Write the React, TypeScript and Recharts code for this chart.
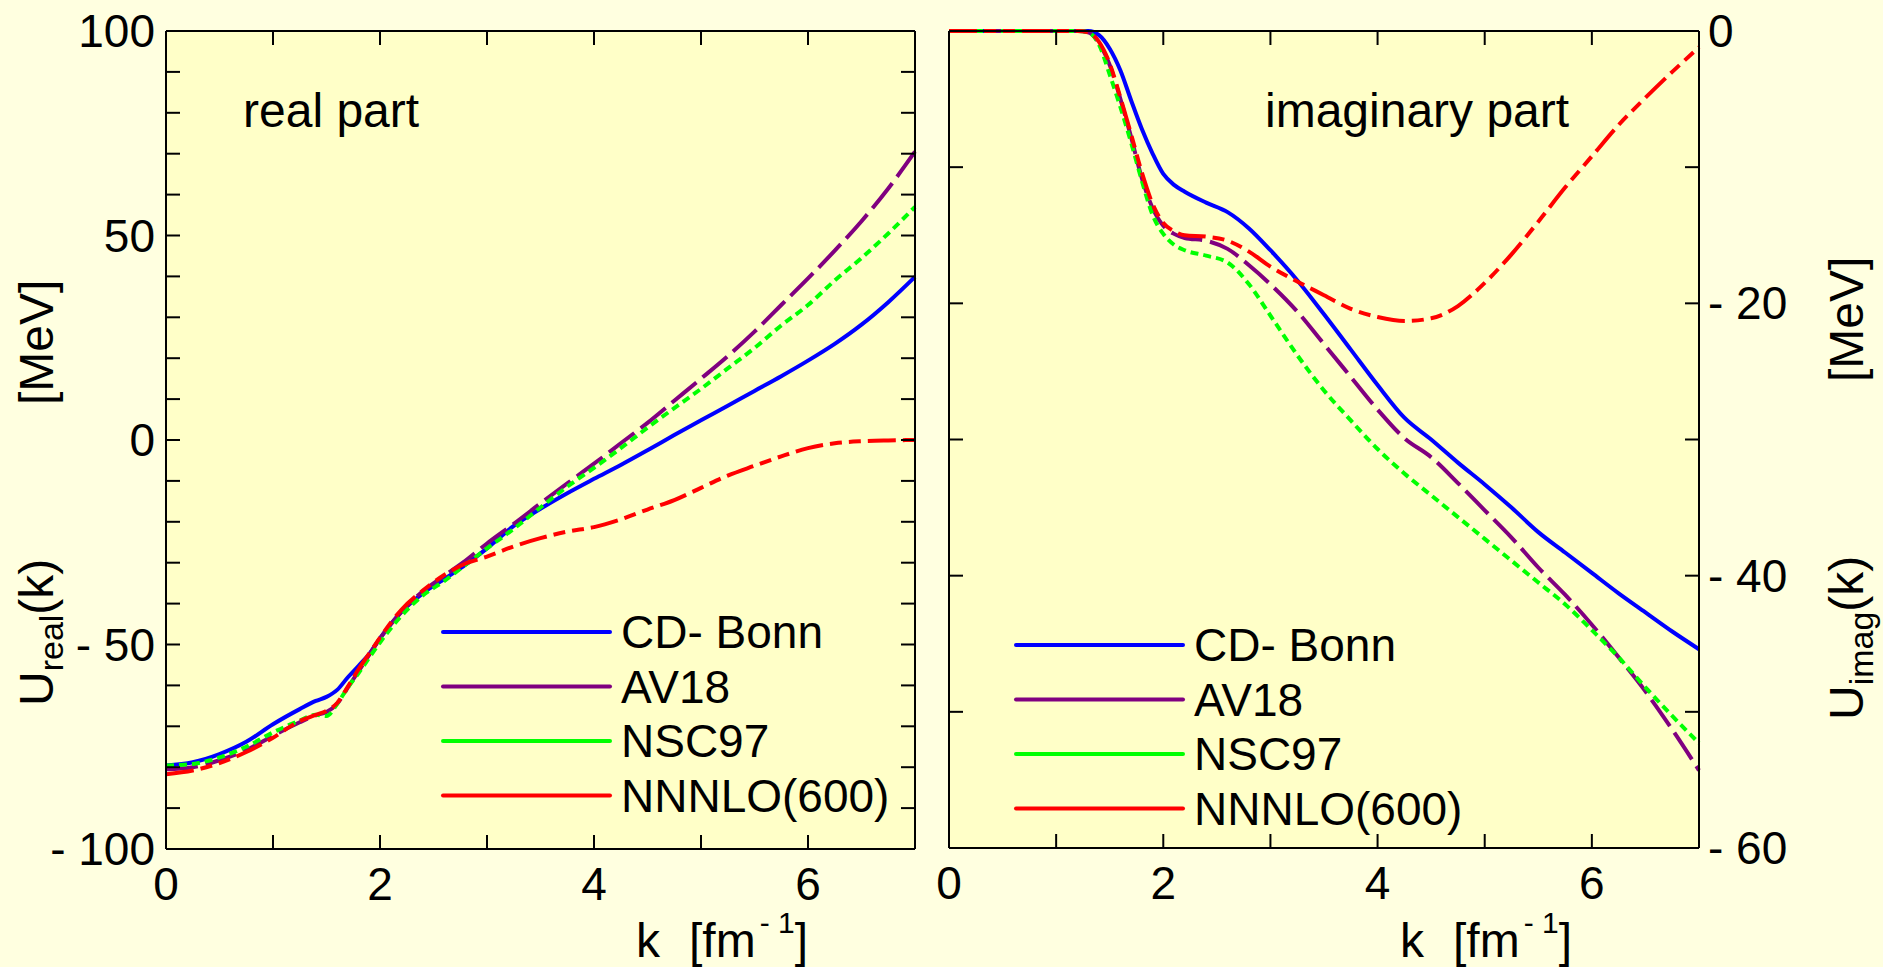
import { LineChart, Line, XAxis, YAxis, CartesianGrid, Legend } from 'recharts'

// k grid and values (MeV)
const kReal = [0, 0.25, 0.5, 0.75, 1, 1.25, 1.4, 1.5, 1.6, 1.7, 1.8, 1.9, 2, 2.2, 2.4, 2.6, 2.8, 3, 3.25, 3.5, 3.75, 4, 4.25, 4.5, 4.75, 5, 5.25, 5.5, 5.75, 6, 6.25, 6.5, 6.75, 7]
const realCdBonn = [-79.6, -78.8, -76.8, -73.8, -69.5, -65.8, -63.8, -62.8, -61.1, -58.0, -55.2, -52.3, -48.5, -42, -37.5, -34, -30.5, -26.5, -21, -16.8, -13, -9.5, -6.1, -2.5, 1.2, 4.8, 8.4, 12.0, 15.6, 19.4, 23.5, 28.2, 33.7, 39.9]
const realAv18 = [-80.5, -80, -78.3, -75.8, -72.3, -69, -67.3, -66.5, -64.5, -60.5, -56.5, -52.5, -48.5, -42, -37, -33.2, -29.5, -25.3, -20.5, -15.5, -10.6, -5.8, -0.8, 4.2, 9.6, 15, 20.5, 26.5, 33, 39.5, 46.3, 53.5, 61.5, 70.5]
const realNsc97 = [-79.6, -79.2, -77.6, -75, -71.5, -68.6, -67.2, -67.5, -64.5, -60.5, -57, -53.2, -49.5, -43, -38, -34.5, -30.5, -26.5, -21.7, -16.5, -11.4, -6.8, -2, 3, 7.8, 12.5, 17.5, 22.5, 28, 33, 39, 44.5, 50.5, 57]
const realNnnlo = [-81.7, -80.8, -79, -76.3, -72.8, -68.7, -67.2, -66.2, -64.3, -60.3, -56, -52.2, -48.3, -41.5, -36.8, -33, -30.2, -28.5, -26, -24, -22.4, -21.3, -19.4, -17, -14.7, -11.7, -8.7, -6.3, -4, -2, -0.8, -0.3, -0.1, 0]

const kImag = [0, 0.5, 1, 1.2, 1.3, 1.4, 1.5, 1.6, 1.7, 1.8, 1.9, 2, 2.1, 2.2, 2.4, 2.6, 2.8, 3, 3.25, 3.5, 3.75, 4, 4.25, 4.5, 4.75, 5, 5.25, 5.5, 5.75, 6, 6.25, 6.5, 6.75, 7]
const imagCdBonn = [0, 0, 0, 0, 0, -0.3, -1.3, -2.9, -5.1, -7.2, -9.0, -10.5, -11.3, -11.8, -12.6, -13.3, -14.5, -16.1, -18.3, -20.8, -23.4, -26.0, -28.4, -30.0, -31.7, -33.3, -35.0, -36.8, -38.3, -39.8, -41.3, -42.7, -44.1, -45.4]
const imagAv18 = [0, 0, 0, 0, -0.1, -0.9, -2.5, -5.0, -7.8, -10.8, -13.0, -14.3, -14.9, -15.2, -15.4, -16.0, -17.2, -18.6, -20.6, -23.0, -25.4, -27.8, -29.9, -31.3, -33.2, -35.2, -37.2, -39.4, -41.4, -43.6, -46.0, -48.5, -51.3, -54.3]
const imagNsc97 = [0, 0, 0, 0, -0.1, -1.0, -3.2, -5.6, -8.2, -11.0, -13.5, -14.9, -15.7, -16.1, -16.5, -17.0, -18.6, -20.9, -23.8, -26.4, -28.6, -30.7, -32.5, -34.1, -35.7, -37.3, -38.9, -40.5, -42.1, -44.0, -46.0, -48.2, -50.3, -52.3]
const imagNnnlo = [0, 0, 0, 0, -0.1, -0.8, -2.4, -4.9, -7.6, -10.4, -12.7, -14.1, -14.7, -15.0, -15.1, -15.4, -16.2, -17.3, -18.4, -19.4, -20.4, -21.0, -21.3, -21.1, -20.2, -18.5, -16.4, -14.0, -11.5, -9.2, -6.9, -4.9, -3.0, -1.2]

const kTicks = [0, 1, 2, 3, 4, 5, 6, 7]
const realTicks = [-100, -90, -80, -70, -60, -50, -40, -30, -20, -10, 0, 10, 20, 30, 40, 50, 60, 70, 80, 90, 100]
const imagTicks = [-60, -50, -40, -30, -20, -10, 0]

const series = [
  { key: 'cdBonn', name: 'CD- Bonn', color: '#0000FF', dash: undefined },
  { key: 'av18', name: 'AV18', color: '#800080', dash: '32 8' },
  { key: 'nsc97', name: 'NSC97', color: '#00FF00', dash: '8 5' },
  { key: 'nnnlo', name: 'NNNLO(600)', color: '#FF0000', dash: '28 7 12 7 12 7' },
]

const realData = kReal.map((k, i) => ({
  k, cdBonn: realCdBonn[i], av18: realAv18[i], nsc97: realNsc97[i], nnnlo: realNnnlo[i],
}))
const imagData = kImag.map((k, i) => ({
  k, cdBonn: imagCdBonn[i], av18: imagAv18[i], nsc97: imagNsc97[i], nnnlo: imagNnnlo[i],
}))

const FONT = '"Liberation Sans", Arial, sans-serif'
const PAGE_BG = '#FFFFE0'
const PLOT_BG = '#FFFFC8'
const TICK = 14
const axisLine = { stroke: '#000', strokeWidth: 2 }

const fmt = (v: number) => (v < 0 ? `- ${-v}` : `${v}`)

// ticks point into the plot, labels sit outside
const bottomTick = (props: any) => {
  const { x, y, payload } = props
  const v = payload.value
  return (
    <g>
      <line x1={x} x2={x} y1={y} y2={y - TICK} stroke="#000" strokeWidth={2} />
      {v % 2 === 0 && (
        <text x={x} y={y + 51} textAnchor="middle" fontSize={46} fontFamily={FONT} fill="#000">{v}</text>
      )}
    </g>
  )
}
const topTick = (props: any) => {
  const { x, y } = props
  return <line x1={x} x2={x} y1={y} y2={y + TICK} stroke="#000" strokeWidth={2} />
}
const leftTick = (every: number) => (props: any) => {
  const { x, y, payload } = props
  const v = payload.value
  return (
    <g>
      <line x1={x} x2={x + TICK} y1={y} y2={y} stroke="#000" strokeWidth={2} />
      {every > 0 && v % every === 0 && (
        <text x={x - 11} y={y + 16} textAnchor="end" fontSize={46} fontFamily={FONT} fill="#000">{fmt(v)}</text>
      )}
    </g>
  )
}
const rightTick = (every: number) => (props: any) => {
  const { x, y, payload } = props
  const v = payload.value
  return (
    <g>
      <line x1={x} x2={x - TICK} y1={y} y2={y} stroke="#000" strokeWidth={2} />
      {every > 0 && v % every === 0 && (
        <text x={x + 9} y={y + 16} textAnchor="start" fontSize={46} fontFamily={FONT} fill="#000">{fmt(v)}</text>
      )}
    </g>
  )
}

function SeriesLegend({ payload }: any) {
  const items = series
    .map(s => (payload ?? []).find((e: any) => e.value === s.name))
    .filter(Boolean)
  return (
    <svg width={420} height={230} style={{ overflow: 'visible' }}>
      {items.map((e: any, i: number) => (
        <g key={e.value}>
          <line x1={2} x2={169} y1={27 + i * 54.5} y2={27 + i * 54.5} stroke={e.color} strokeWidth={4} strokeLinecap="round" />
          <text x={180} y={43 + i * 54.5} fontSize={46} fontFamily={FONT} fill="#000">{e.value}</text>
        </g>
      ))}
    </svg>
  )
}

function renderLines() {
  const lines = series.map(s => (
    <Line
      key={s.key}
      type="monotone"
      dataKey={s.key}
      name={s.name}
      stroke={s.color}
      strokeWidth={4}
      strokeDasharray={s.dash}
      dot={false}
      activeDot={false}
      isAnimationActive={false}
    />
  ))
  // invisible copy so the top / right frame axes get a scale
  lines.push(
    <Line
      key="frame"
      xAxisId="top"
      yAxisId="r"
      dataKey="nnnlo"
      stroke="none"
      legendType="none"
      dot={false}
      activeDot={false}
      isAnimationActive={false}
    />
  )
  return lines
}

export default function App() {
  return (
    <div style={{ position: 'absolute', left: 0, top: 0, width: 1883, height: 967, background: PAGE_BG, overflow: 'hidden' }}>
      <div style={{ position: 'absolute', left: 0, top: 0 }}>
        <LineChart width={932} height={967} data={realData} margin={{ top: 0, right: 0, bottom: 0, left: 0 }}>
          <CartesianGrid horizontal={false} vertical={false} fill={PLOT_BG} />
          <XAxis dataKey="k" type="number" domain={[0, 7]} ticks={kTicks} interval={0} height={118}
            axisLine={axisLine} tickLine={false} tickSize={0} tickMargin={0} tick={bottomTick} />
          <XAxis xAxisId="top" dataKey="k" orientation="top" type="number" domain={[0, 7]} ticks={kTicks} interval={0} height={31}
            axisLine={axisLine} tickLine={false} tickSize={0} tickMargin={0} tick={topTick} />
          <YAxis type="number" domain={[-100, 100]} ticks={realTicks} interval={0} width={166}
            axisLine={axisLine} tickLine={false} tickSize={0} tickMargin={0} tick={leftTick(50)} />
          <YAxis yAxisId="r" orientation="right" type="number" domain={[-100, 100]} ticks={realTicks} interval={0} width={17}
            axisLine={axisLine} tickLine={false} tickSize={0} tickMargin={0} tick={rightTick(0)} />
          <Legend layout="vertical" align="center" verticalAlign="middle" content={SeriesLegend}
            wrapperStyle={{ left: 441, top: 605 }} />
          {renderLines()}
        </LineChart>
      </div>
      <div style={{ position: 'absolute', left: 932, top: 0 }}>
        <LineChart width={951} height={967} data={imagData} margin={{ top: 0, right: 0, bottom: 0, left: 0 }}>
          <CartesianGrid horizontal={false} vertical={false} fill={PLOT_BG} />
          <XAxis dataKey="k" type="number" domain={[0, 7]} ticks={kTicks} interval={0} height={119}
            axisLine={axisLine} tickLine={false} tickSize={0} tickMargin={0} tick={bottomTick} />
          <XAxis xAxisId="top" dataKey="k" orientation="top" type="number" domain={[0, 7]} ticks={kTicks} interval={0} height={31}
            axisLine={axisLine} tickLine={false} tickSize={0} tickMargin={0} tick={topTick} />
          <YAxis type="number" domain={[-60, 0]} ticks={imagTicks} interval={0} width={17}
            axisLine={axisLine} tickLine={false} tickSize={0} tickMargin={0} tick={leftTick(0)} />
          <YAxis yAxisId="r" orientation="right" type="number" domain={[-60, 0]} ticks={imagTicks} interval={0} width={184}
            axisLine={axisLine} tickLine={false} tickSize={0} tickMargin={0} tick={rightTick(20)} />
          <Legend layout="vertical" align="center" verticalAlign="middle" content={SeriesLegend}
            wrapperStyle={{ left: 82, top: 618 }} />
          {renderLines()}
        </LineChart>
      </div>
      <svg width={1883} height={967} style={{ position: 'absolute', left: 0, top: 0, pointerEvents: 'none' }}
        fontFamily={FONT} fill="#000">
        <text x={243} y={127} fontSize={48}>real part</text>
        <text x={1265} y={127} fontSize={48}>imaginary part</text>
        <text transform="translate(53,706) rotate(-90)" fontSize={48}>
          U<tspan fontSize={34} dy={10}>real</tspan><tspan dy={-10}>(k)</tspan>
        </text>
        <text transform="translate(53,405) rotate(-90)" fontSize={48}>[MeV]</text>
        <text transform="translate(1863,720) rotate(-90)" fontSize={48}>
          U<tspan fontSize={34} dy={10}>imag</tspan><tspan dy={-10}>(k)</tspan>
        </text>
        <text transform="translate(1863,382) rotate(-90)" fontSize={48}>[MeV]</text>
        <text x={636} y={957} fontSize={48}>k</text>
        <text x={689} y={957} fontSize={48}>
          [fm<tspan fontSize={30} dx={4} dy={-24}>- 1</tspan><tspan dy={24}>]</tspan>
        </text>
        <text x={1400} y={957} fontSize={48}>k</text>
        <text x={1453} y={957} fontSize={48}>
          [fm<tspan fontSize={30} dx={4} dy={-24}>- 1</tspan><tspan dy={24}>]</tspan>
        </text>
      </svg>
    </div>
  )
}
